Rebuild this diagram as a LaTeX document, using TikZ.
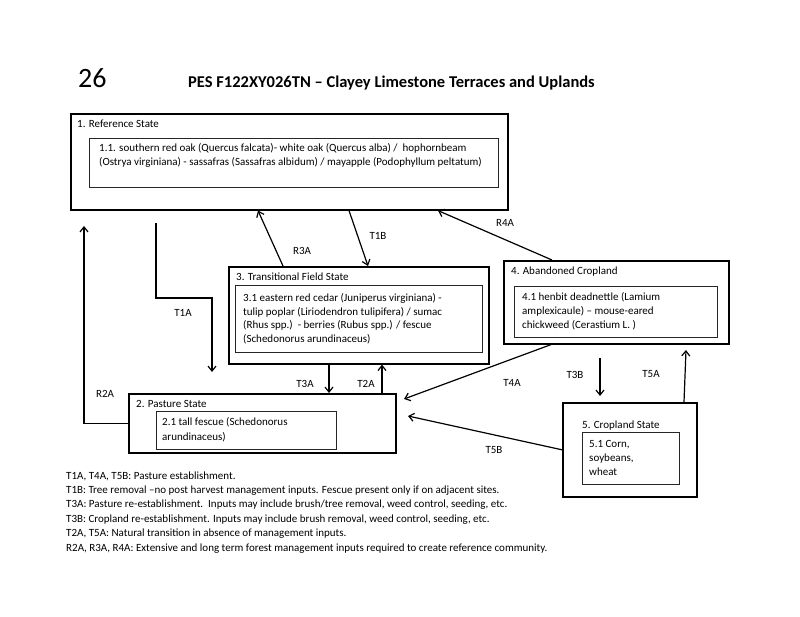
\documentclass[tikz,border=0pt]{standalone}
\usepackage{fontspec}
\setmainfont{Carlito}
\usepackage{tikz}
\usetikzlibrary{arrows}
\usetikzlibrary{arrows.meta}

\tikzset{
  statebox/.style={draw, line width=1.6pt, anchor=north west, inner sep=0pt},
  commbox/.style={draw=black!85, line width=1.1pt, anchor=north west, inner sep=0pt},
  boxtext/.style={anchor=base west, align=left, inner sep=0pt, font=\fontsize{11}{14}\selectfont},
  trans/.style={-{Straight Barb[length=5pt,width=8pt]}, line width=1.2pt},
  translabel/.style={anchor=base, inner sep=0pt, font=\fontsize{11}{12}\selectfont}
}

\begin{document}
\begin{tikzpicture}[x=1pt,y=-1pt]
    \useasboundingbox (0,0) rectangle (800,617);
    \node[anchor=base west, inner sep=0pt, font=\fontsize{28}{30}\selectfont] (pagenum) at (78,88) {26};
    \node[anchor=base west, inner sep=0pt, font=\fontsize{16.5}{18}\bfseries] (title) at (188,88) {PES F122XY026TN -- Clayey Limestone Terraces and Uplands};
    % states and communities (text nodes sit on their last line)
    \node[statebox, minimum width=437pt, minimum height=96pt] (ref) at (70,113) {};
    \node[boxtext] (refname) at (77,128) {1. Reference State};
    \node[commbox, minimum width=409pt, minimum height=49pt] (refcomm) at (89,138) {};
    \node[boxtext] (reftext) at (99,166) {1.1. southern red oak (Quercus falcata)- white oak (Quercus alba) /\ \ hophornbeam\\(Ostrya virginiana) - sassafras (Sassafras albidum) / mayapple (Podophyllum peltatum)};
    \node[statebox, minimum width=267pt, minimum height=59pt] (pasture) at (128,393) {};
    \node[boxtext] (pasturename) at (136,407) {2. Pasture State};
    \node[commbox, minimum width=180pt, minimum height=38pt] (pasturecomm) at (156,411) {};
    \node[boxtext, font=\fontsize{11}{15}\selectfont] (pasturetext) at (162,440) {2.1 tall fescue (Schedonorus\\arundinaceus)};
    \node[statebox, minimum width=260pt, minimum height=97pt] (field) at (228,266) {};
    \node[boxtext] (fieldname) at (236,281) {3. Transitional Field State};
    \node[commbox, minimum width=247pt, minimum height=67pt] (fieldcomm) at (235,285) {};
    \node[boxtext, font=\fontsize{11}{13.4}\selectfont] (fieldtext) at (243,342) {3.1 eastern red cedar (Juniperus virginiana) -\\tulip poplar (Liriodendron tulipifera) / sumac\\(Rhus spp.)\ \ - berries (Rubus spp.) / fescue\\(Schedonorus arundinaceus)};
    \node[statebox, minimum width=225pt, minimum height=83pt] (aband) at (503,260) {};
    \node[boxtext] (abandname) at (511,275) {4. Abandoned Cropland};
    \node[commbox, minimum width=203pt, minimum height=51pt] (abandcomm) at (514,286) {};
    \node[boxtext] (abandtext) at (522,329) {4.1 henbit deadnettle (Lamium\\amplexicaule) -- mouse-eared\\chickweed (Cerastium L. )};
    \node[statebox, minimum width=134pt, minimum height=94pt] (crop) at (562,402) {};
    \node[boxtext] (cropname) at (582,428) {5. Cropland State};
    \node[commbox, minimum width=97pt, minimum height=52pt] (cropcomm) at (582,432) {};
    \node[boxtext] (croptext) at (589,475) {5.1 Corn,\\soybeans,\\wheat};
    % free ends
    \coordinate (t1atop) at (156,223);
    \coordinate (t1aend) at (212,372);
    \coordinate (r2aend) at (84,226);
    \coordinate (t4aend) at (404,399);
    \coordinate (t5bend) at (408,416);
    \coordinate (t3btop) at (600,358);
    \coordinate (t3bend) at (600,396);
    \coordinate (t5aend) at (686,350);
    % transitions
    \draw[trans] (t1atop) -- ++(0,75) -| (t1aend);
    \draw[trans] (pasture.west) -| (r2aend);
    \draw[trans] ([xshift=55pt]field.north west) -- ([xshift=188pt]ref.south west);
    \draw[trans] ([xshift=279pt]ref.south west) -- ([xshift=140pt]field.north west);
    \draw[trans] ([xshift=49pt]aband.north west) -- ([xshift=368pt]ref.south west);
    \draw[trans] ([xshift=101pt]field.south west) -- ([xshift=201pt]pasture.north west);
    \draw[trans] ([xshift=254pt]pasture.north west) -- ([xshift=154pt]field.south west);
    \draw[trans] ([xshift=48pt]aband.south west) -- (t4aend);
    \draw[trans] (crop.west) -- (t5bend);
    \draw[trans] (t3btop) -- (t3bend);
    \draw[trans] ([xshift=122pt]crop.north west) -- (t5aend);
    \node[translabel] (t1a) at (183,317) {T1A};
    \node[translabel] (r2a) at (105,397) {R2A};
    \node[translabel] (r3a) at (302,255) {R3A};
    \node[translabel] (t1b) at (378,240) {T1B};
    \node[translabel] (r4a) at (505,227) {R4A};
    \node[translabel] (t3a) at (305,387) {T3A};
    \node[translabel] (t2a) at (366,387) {T2A};
    \node[translabel] (t4a) at (512,386) {T4A};
    \node[translabel] (t5b) at (494,453) {T5B};
    \node[translabel] (t3b) at (575,378) {T3B};
    \node[translabel] (t5a) at (651,377) {T5A};
    % key
    \node[boxtext, font=\fontsize{11}{14.4}\selectfont] (key) at (66,551) {T1A, T4A, T5B: Pasture establishment.\\T1B: Tree removal --no post harvest management inputs. Fescue present only if on adjacent sites.\\T3A: Pasture re-establishment.\ \ Inputs may include brush/tree removal, weed control, seeding, etc.\\T3B: Cropland re-establishment. Inputs may include brush removal, weed control, seeding, etc.\\T2A, T5A: Natural transition in absence of management inputs.\\R2A, R3A, R4A: Extensive and long term forest management inputs required to create reference community.};
  \end{tikzpicture}
\end{document}
